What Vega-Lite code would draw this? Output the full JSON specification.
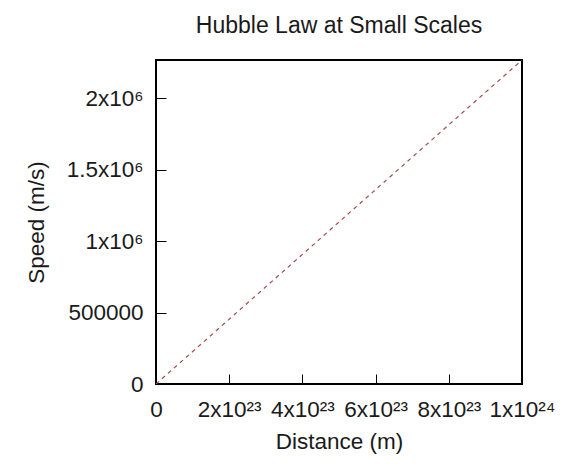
{
  "$schema": "https://vega.github.io/schema/vega-lite/v6.json",
  "autosize": {"type": "none"},
  "width": 366,
  "height": 324,
  "padding": {"left": 156, "top": 60, "right": 47, "bottom": 82},
  "background": "white",
  "title": {
    "text": "Hubble Law at Small Scales",
    "font": "Liberation Sans",
    "fontSize": 23,
    "fontWeight": "normal",
    "color": "#1a1a1a",
    "baseline": "alphabetic",
    "offset": 4
  },
  "data": {
    "values": [
      {"distance": 0, "speed": 0},
      {"distance": 1e24, "speed": 2268500}
    ]
  },
  "mark": {"type": "line", "color": "#a84a4a", "strokeWidth": 1.2, "strokeDash": [4, 4], "clip": true},
  "encoding": {
    "x": {
      "field": "distance",
      "type": "quantitative",
      "scale": {"domain": [0, 1e24], "nice": false, "zero": false},
      "axis": {
        "title": "Distance (m)",
        "values": [0, 2e23, 4e23, 6e23, 8e23, 1e24],
        "labelExpr": "datum.value == 0 ? '0' : datum.value < 3e23 ? '2x10²³' : datum.value < 5e23 ? '4x10²³' : datum.value < 7e23 ? '6x10²³' : datum.value < 9e23 ? '8x10²³' : '1x10²⁴'",
        "titleBaseline": "alphabetic",
        "titleY": 64,
        "labelPadding": 24
      }
    },
    "y": {
      "field": "speed",
      "type": "quantitative",
      "scale": {"domain": [0, 2268500], "nice": false, "zero": false},
      "axis": {
        "title": "Speed (m/s)",
        "values": [0, 500000, 1000000, 1500000, 2000000],
        "labelExpr": "datum.value == 0 ? '0' : datum.value == 500000 ? '500000' : datum.value == 1000000 ? '1x10⁶' : datum.value == 1500000 ? '1.5x10⁶' : '2x10⁶'",
        "titleAngle": 270,
        "titleBaseline": "alphabetic",
        "titleX": -113,
        "titleY": 162,
        "titleAlign": "center",
        "labelPadding": 23
      }
    }
  },
  "config": {
    "view": {"stroke": "#000000", "strokeWidth": 2},
    "axis": {
      "grid": false,
      "domain": false,
      "tickSize": -10,
      "tickColor": "#000000",
      "tickWidth": 1,
      "labelFont": "Liberation Sans",
      "labelFontSize": 22.5,
      "labelColor": "#1a1a1a",
      "titleFont": "Liberation Sans",
      "titleFontSize": 22.5,
      "titleFontWeight": "normal",
      "titleColor": "#1a1a1a",
      "labelFlush": false,
      "labelOverlap": false
    }
  }
}
